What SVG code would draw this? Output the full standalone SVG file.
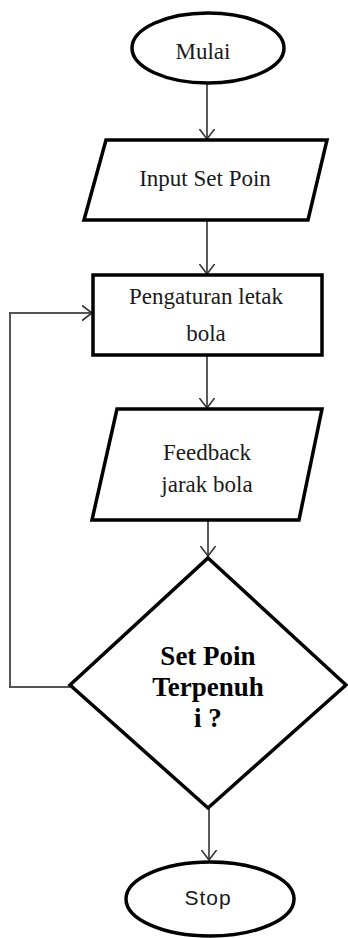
<svg xmlns="http://www.w3.org/2000/svg" width="348" height="938" viewBox="0 0 348 938">
<style>
.shape{fill:#fff;stroke:#000;stroke-width:3.5;stroke-linejoin:miter}
.conn{fill:none;stroke:#333;stroke-width:1.6}
.loop{fill:none;stroke:#555;stroke-width:2}
.t{font-family:"Liberation Serif","Times New Roman",serif;font-size:23px;fill:#1a1a1a;text-anchor:middle}
.b{font-family:"Liberation Serif","Times New Roman",serif;font-size:27px;font-weight:bold;fill:#000;text-anchor:middle}
.s{font-family:"Liberation Sans",Arial,sans-serif;font-size:21px;fill:#1a1a1a;text-anchor:middle;letter-spacing:1px}
</style>
<defs>
<marker id="arr" viewBox="0 0 11 16" markerWidth="11" markerHeight="16" refX="10.5" refY="8" orient="auto" markerUnits="userSpaceOnUse">
<path d="M0,0 L10.5,8 L0,16" fill="none" stroke="#333" stroke-width="1.6"/>
</marker>
</defs>
<g id="connectors">
<line class="conn" x1="207" y1="83" x2="207" y2="139" marker-end="url(#arr)"/>
<line class="conn" x1="207" y1="221" x2="207" y2="274" marker-end="url(#arr)"/>
<line class="conn" x1="207" y1="355" x2="207" y2="408" marker-end="url(#arr)"/>
<line class="conn" x1="208" y1="520" x2="208" y2="556" marker-end="url(#arr)"/>
<line class="conn" x1="209" y1="808" x2="209" y2="860" marker-end="url(#arr)"/>
<polyline class="loop" points="70,687 10,687 10,313 92,313" marker-end="url(#arr)"/>
</g>
<g id="mulai">
<ellipse class="shape" cx="208" cy="48" rx="76" ry="35"/>
<text class="t" x="203" y="59" font-size="24">Mulai</text>
</g>
<g id="input">
<polygon class="shape" points="106,140 327,140 308,220 84,220"/>
<text class="t" x="205" y="186">Input Set Poin</text>
</g>
<g id="pengaturan">
<rect class="shape" x="93" y="275" width="229" height="80"/>
<text class="t" x="206" y="304">Pengaturan letak</text>
<text class="t" x="206" y="341">bola</text>
</g>
<g id="feedback">
<polygon class="shape" points="117,409 322,409 299,520 92,520"/>
<text class="t" x="207" y="460">Feedback</text>
<text class="t" x="207" y="492">jarak bola</text>
</g>
<g id="decision">
<polygon class="shape" points="208,558 346,685 208,808 70,685"/>
<text class="b" x="208" y="665">Set Poin</text>
<text class="b" x="208" y="696">Terpenuh</text>
<text class="b" x="208" y="727">i ?</text>
</g>
<g id="stop">
<ellipse class="shape" cx="210" cy="899" rx="84" ry="37"/>
<text class="s" x="208" y="905">Stop</text>
</g>
</svg>
